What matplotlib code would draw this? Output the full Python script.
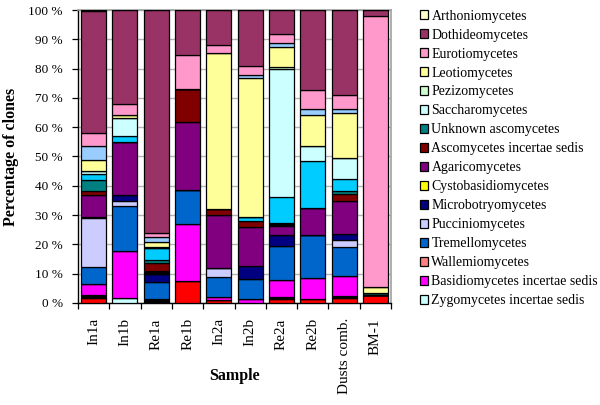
import matplotlib
matplotlib.use("Agg")
import matplotlib.pyplot as plt
from matplotlib.patches import Patch
import numpy as np

plt.rcParams["font.family"] = ["Liberation Serif", "DejaVu Serif"]

samples = ["In1a", "In1b", "Re1a", "Re1b", "In2a", "In2b", "Re2a", "Re2b",
           "Dusts comb.", "BM-1"]

# percentages per class, bottom of the stack first
unlisted_red = [1.8, 0, 0, 7.5, 1.0, 0, 1.5, 1.3, 1.6, 2.8]
zygo = [0, 1.8, 0, 0, 0, 0, 0, 0, 0, 0]
unlisted_black1 = [0.9, 0, 1.5, 0, 0, 0, 0.6, 0, 0.6, 0]
basidio_is = [3.7, 16.0, 0, 19.3, 0.9, 1.5, 5.6, 7.2, 6.9, 0]
wallemio = [0, 0, 0, 0, 0, 0, 0, 0, 0, 0]
tremello = [5.7, 15.2, 5.7, 11.6, 6.9, 6.8, 11.8, 14.8, 9.9, 0]
puccinio = [16.8, 1.8, 0, 0, 3.0, 0, 0, 0, 2.5, 0]
microbot = [0.6, 2.2, 2.6, 0, 0, 4.3, 3.8, 0, 1.9, 0]
cystobasidio = [0, 0, 0, 0, 0, 0, 0, 0, 0, 0]
agarico = [7.2, 18.0, 0, 23.2, 18.2, 13.3, 3.0, 9.1, 11.4, 0]
unlisted_black2 = [0, 0, 1.2, 0, 0, 0, 1.0, 0, 0, 0]
asco_is = [1.6, 0, 2.8, 11.6, 2.2, 2.0, 0, 0, 2.5, 0]
unknown_asco = [3.6, 0, 1.0, 0, 0, 0, 0, 0, 0.9, 0.7]
unlisted_cyan = [2.0, 2.0, 3.8, 0, 0, 1.4, 8.7, 16.1, 4.0, 0]
saccharo = [1.1, 6.0, 0, 0, 0, 0, 44.0, 5.2, 7.3, 0]
pezizo = [0, 0, 0.5, 0, 0, 0, 0.5, 0, 0, 0]
leotio = [3.8, 1.0, 1.8, 0, 53.0, 47.6, 7.0, 10.3, 15.3, 1.9]
unlisted_lightblue = [4.8, 0, 1.5, 0, 0, 0.8, 1.3, 2.2, 1.5, 0]
eurotio = [4.3, 4.0, 1.4, 11.4, 3.0, 3.1, 3.0, 6.6, 4.8, 92.6]
dothideo = [41.6, 32.0, 76.2, 15.4, 11.8, 19.2, 8.2, 27.2, 28.9, 2.0]
arthonio = [0.5, 0, 0, 0, 0, 0, 0, 0, 0, 0]

# (values, colour, legend label or None)
stack = [
    (unlisted_red, "#ff0000", None),
    (zygo, "#ccffff", "Zygomycetes incertae sedis"),
    (unlisted_black1, "#000000", None),
    (basidio_is, "#ff00ff", "Basidiomycetes incertae sedis"),
    (wallemio, "#ff8080", "Wallemiomycetes"),
    (tremello, "#0066cc", "Tremellomycetes"),
    (puccinio, "#ccccff", "Pucciniomycetes"),
    (microbot, "#000080", "Microbotryomycetes"),
    (cystobasidio, "#ffff00", "Cystobasidiomycetes"),
    (agarico, "#800080", "Agaricomycetes"),
    (unlisted_black2, "#000000", None),
    (asco_is, "#800000", "Ascomycetes incertae sedis"),
    (unknown_asco, "#008080", "Unknown ascomycetes"),
    (unlisted_cyan, "#00ccff", None),
    (saccharo, "#ccffff", "Saccharomycetes"),
    (pezizo, "#ccffcc", "Pezizomycetes"),
    (leotio, "#ffff99", "Leotiomycetes"),
    (unlisted_lightblue, "#99ccff", None),
    (eurotio, "#ff99cc", "Eurotiomycetes"),
    (dothideo, "#993366", "Dothideomycetes"),
    (arthonio, "#ffffcc", "Arthoniomycetes"),
]

fig = plt.figure(figsize=(6.0, 4.05), dpi=100)
ax = fig.add_axes([0.13, 0.252, 0.5217, 0.7233])

x = np.arange(len(samples))
bottom = np.zeros(len(samples))
for vals, col, lab in stack:
    v = np.array(vals, dtype=float)
    ax.bar(x, v, bottom=bottom, width=0.8, color=col, edgecolor="black",
           linewidth=0.9, zorder=3)
    bottom += v

ax.set_xlim(-0.5, len(samples) - 0.5)
ax.set_ylim(0, 100)
ax.set_yticks(range(0, 101, 10))
ax.set_yticklabels([f"{t} %" for t in range(0, 101, 10)], fontsize=9.5)
ax.yaxis.grid(True, color="#b4b4b4", lw=1.0, zorder=0)
ax.set_axisbelow(True)

ax.set_xticks(x)
ax.set_xticklabels(samples, rotation=90, fontsize=11)
ax.set_xticks(np.arange(-0.5, len(samples), 1), minor=True)
ax.tick_params(axis="x", which="major", length=0, pad=11)
ax.tick_params(axis="x", which="minor", length=4, direction="out", width=0.9)
ax.tick_params(axis="y", length=4, direction="out", width=0.9, pad=7)

for s in ("top", "right"):
    ax.spines[s].set_color("#a0a0a0")
    ax.spines[s].set_linewidth(1.2)
for s in ("left", "bottom"):
    ax.spines[s].set_color("black")
    ax.spines[s].set_linewidth(1.0)

ax.set_ylabel("Percentage of clones", fontsize=11.5, fontweight="bold")
ax.yaxis.set_label_coords(-0.19, 0.5)
fig.text(234.5 / 600, 1 - 376 / 405, "Sample", fontsize=11.5, fontweight="bold",
         ha="center", va="center")

handles = [Patch(facecolor=col, edgecolor="black", linewidth=0.9, label=lab)
           for vals, col, lab in reversed(stack) if lab is not None]
fig.legend(handles=handles, loc="upper left", bbox_to_anchor=(0.69, 0.99),
           frameon=False, fontsize=10, handlelength=0.6, handleheight=0.6,
           handletextpad=0.25, labelspacing=0.43, borderaxespad=0)

fig.savefig("out.png", dpi=100, facecolor="white")
